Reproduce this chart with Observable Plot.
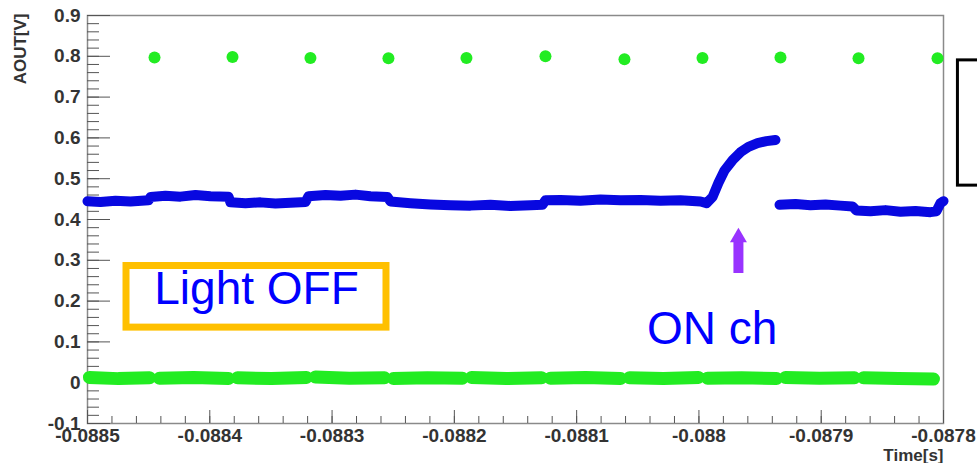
<!DOCTYPE html>
<html><head><meta charset="utf-8">
<script src="https://cdn.jsdelivr.net/npm/d3@7"></script>
<script src="https://cdn.jsdelivr.net/npm/@observablehq/plot@0.6"></script>
<style>html,body{margin:0;padding:0;background:#fff;overflow:hidden}</style>
</head><body><div id="chart"></div>
<script>
const FONT = "'Liberation Sans', Arial, Helvetica, sans-serif";

// Axis ticks and labels
const xTicks = [-0.0885, -0.0884, -0.0883, -0.0882, -0.0881, -0.0880, -0.0879, -0.0878];
const xTickLabels = ["-0.0885", "-0.0884", "-0.0883", "-0.0882", "-0.0881", "-0.088", "-0.0879", "-0.0878"];
const yTicks = [-0.1, 0, 0.1, 0.2, 0.3, 0.4, 0.5, 0.6, 0.7, 0.8, 0.9];
const yTickLabels = ["-0.1", "0", "0.1", "0.2", "0.3", "0.4", "0.5", "0.6", "0.7", "0.8", "0.9"];

// Blue channel (AOUT of observed channel)
const blueTime = [
  -0.0885000, -0.0884894, -0.0884771, -0.0884648, -0.0884501,
  -0.0884485, -0.0884362, -0.0884240, -0.0884117, -0.0883994, -0.0883847,
  -0.0883831, -0.0883708, -0.0883585, -0.0883463, -0.0883340, -0.0883217,
  -0.0883193, -0.0883054, -0.0882931, -0.0882808, -0.0882686, -0.0882547,
  -0.0882522, -0.0882359, -0.0882195, -0.0882032, -0.0881868, -0.0881705, -0.0881541, -0.0881377, -0.0881279,
  -0.0881255, -0.0881132, -0.0880969, -0.0880805, -0.0880641, -0.0880478, -0.0880314, -0.0880151, -0.0879987,
  -0.0879938, -0.0879889, -0.0879840, -0.0879791, -0.0879726, -0.0879660, -0.0879595, -0.0879521, -0.0879448, -0.0879374,
  -0.0879358,
  -0.0879341, -0.0879210, -0.0879088, -0.0878965, -0.0878843, -0.0878744,
  -0.0878712, -0.0878597, -0.0878474, -0.0878352, -0.0878229, -0.0878107, -0.0878058,
  -0.0878025, -0.0878000
];
const blueValue = [
  0.445, 0.443, 0.446, 0.444, 0.447,
  0.455, 0.458, 0.456, 0.460, 0.457, 0.456,
  0.442, 0.440, 0.442, 0.439, 0.441, 0.443,
  0.457, 0.460, 0.458, 0.461, 0.457, 0.455,
  0.444, 0.440, 0.437, 0.435, 0.434, 0.436, 0.433, 0.435, 0.436,
  0.447, 0.448, 0.446, 0.449, 0.447, 0.448, 0.446, 0.447, 0.444,
  0.440, 0.455, 0.490, 0.520, 0.545, 0.565, 0.578, 0.587, 0.592, 0.595,
  NaN,
  0.436, 0.438, 0.435, 0.437, 0.434, 0.432,
  0.422, 0.420, 0.423, 0.419, 0.421, 0.418, 0.420,
  0.440, 0.445
];

// Green channel: baseline segments between clock pulses
const greenLowTime = [
  -0.0884984, -0.0884747, -0.0884493, -0.0884452,
  -0.0884411, -0.0884133, -0.0883847, -0.0883814,
  -0.0883773, -0.0883495, -0.0883209, -0.0883177,
  -0.0883136, -0.0882858, -0.0882571, -0.0882539,
  -0.0882498, -0.0882220, -0.0881934, -0.0881901,
  -0.0881860, -0.0881574, -0.0881287, -0.0881255,
  -0.0881214, -0.0880928, -0.0880641, -0.0880609,
  -0.0880568, -0.0880290, -0.0880004, -0.0879971,
  -0.0879930, -0.0879652, -0.0879366, -0.0879333,
  -0.0879292, -0.0879014, -0.0878728, -0.0878695,
  -0.0878654, -0.0878368, -0.0878082
];
const greenLowValue = [
  0.013, 0.010, 0.012, NaN,
  0.011, 0.013, 0.010, NaN,
  0.012, 0.010, 0.013, NaN,
  0.014, 0.011, 0.012, NaN,
  0.010, 0.012, 0.011, NaN,
  0.013, 0.010, 0.012, NaN,
  0.011, 0.013, 0.010, NaN,
  0.012, 0.010, 0.013, NaN,
  0.011, 0.012, 0.010, NaN,
  0.013, 0.011, 0.012, NaN,
  0.012, 0.010, 0.009
];
// Green channel: clock pulses
const pulseTime = [-0.0884452, -0.0883814, -0.0883177, -0.0882539, -0.0881901, -0.0881255,
                   -0.0880609, -0.0879971, -0.0879333, -0.0878695, -0.0878049];
const pulseValue = [0.797, 0.798, 0.796, 0.795, 0.796, 0.800, 0.793, 0.796, 0.797, 0.795, 0.795];

const blue = blueTime.map((t, i) => ({t, v: blueValue[i]}));
const greenLow = greenLowTime.map((t, i) => ({t, v: greenLowValue[i]}));
const pulses = pulseTime.map((t, i) => ({t, v: pulseValue[i]}));

const xMinor = d3.range(0, 36).map(i => -0.0885 + i * 0.00002);
const yMinor = d3.range(0, 51).map(i => -0.1 + i * 0.02);

const W = 977, H = 463, ML = 87, MR = 34, MT = 15, MB = 40;
const IW = W - ML - MR, IH = H - MT - MB;

const chart = Plot.plot({
  width: W, height: H,
  marginLeft: ML, marginRight: MR, marginTop: MT, marginBottom: MB,
  x: {domain: [-0.0885, -0.0878]},
  y: {domain: [-0.1, 0.9]},
  style: {fontFamily: FONT, background: "white", color: "#333", overflow: "visible"},
  marks: [
    Plot.frame({stroke: "#8a8a8a", strokeWidth: 1.5}),
    Plot.tickY(yMinor, {insetRight: IW - 12, stroke: "#555"}),
    Plot.tickY(yTicks, {insetRight: IW - 23, stroke: "#555"}),
    Plot.tickX(xMinor, {insetTop: IH - 7, stroke: "#555"}),
    Plot.tickX(xTicks, {insetTop: IH - 13, stroke: "#555"}),
    Plot.axisY(yTicks, {tickSize: 0, tickPadding: 7, fontSize: 19, fontWeight: "bold",
      tickFormat: d => yTickLabels[yTicks.indexOf(d)], label: null}),
    Plot.axisX(xTicks, {tickSize: 0, tickPadding: 4.5, fontSize: 19, fontWeight: "bold",
      tickFormat: d => xTickLabels[xTicks.indexOf(d)], label: null}),
    Plot.text(["AOUT[V]"], {text: d => d, frameAnchor: "top-left", dx: -67, dy: -2, rotate: -90,
      textAnchor: "end", lineAnchor: "middle", fontSize: 17, fontWeight: "bold", fill: "#333"}),
    Plot.text(["Time[s]"], {text: d => d, frameAnchor: "bottom-right", dy: 37,
      textAnchor: "end", lineAnchor: "bottom", fontSize: 17, fontWeight: "bold", fill: "#333"}),
    // data
    Plot.line(greenLow, {x: "t", y: "v", stroke: "#22ec22", strokeWidth: 13}),
    Plot.dot(pulses, {x: "t", y: "v", r: 6, fill: "#22ec22", stroke: "none"}),
    Plot.line(blue, {x: "t", y: "v", stroke: "#0808e0", strokeWidth: 10}),
    // annotations
    Plot.rect([0], {x1: -0.0884681, x2: -0.0882555, y1: 0.135, y2: 0.286,
      fill: "none", stroke: "#FFC000", strokeWidth: 7}),
    Plot.text(["Light OFF"], {text: d => d, x: -0.0883618, y: 0.194, textAnchor: "middle",
      lineAnchor: "bottom", fontSize: 46, fill: "#0000ff", fontFamily: FONT}),
    Plot.ruleX([0], {x: -0.0879677, y1: 0.2676, y2: 0.3485, stroke: "#9933ff", strokeWidth: 10, strokeLinecap: "butt"}),
    Plot.dot([0], {x: -0.0879677, y: 0.356, symbol: "triangle", r: 6.3, fill: "#9933ff", stroke: "none"}),
    Plot.text(["ON ch"], {text: d => d, x: -0.0879358, y: 0.0956, textAnchor: "end",
      lineAnchor: "bottom", fontSize: 46, fill: "#0000ff", fontFamily: FONT}),
    Plot.rect([0], {x1: -0.0877882, x2: -0.0877600, y1: 0.483, y2: 0.790,
      fill: "none", stroke: "black", strokeWidth: 3})
  ]
});
document.getElementById("chart").appendChild(chart);
</script>
</body></html>
